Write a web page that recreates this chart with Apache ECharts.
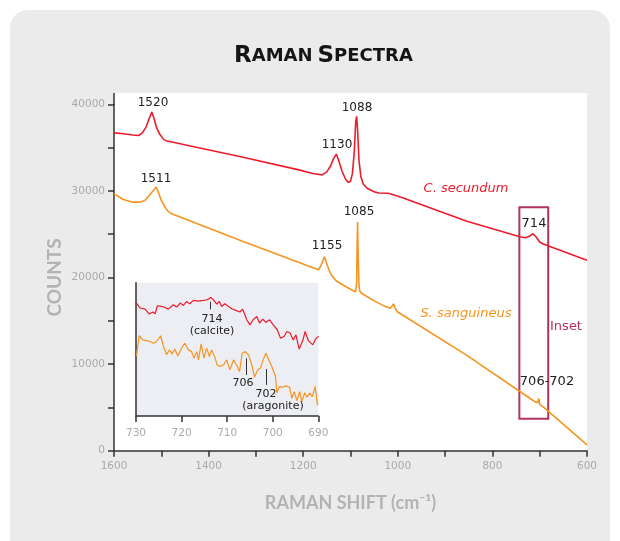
<!DOCTYPE html>
<html>
<head>
<meta charset="utf-8">
<script src="https://cdn.jsdelivr.net/npm/echarts@6/dist/echarts.min.js"></script>
<style>html,body{margin:0;padding:0;background:#fff}#c{width:620px;height:541px}</style>
</head>
<body>
<div id="c"></div>
<script>
// ---- Main spectra (Raman shift cm-1, counts) ----
const shiftRed = [1600,1580,1560,1548,1540,1532,1526,1520,1515,1510,1503,1495,1490,1327,1207,1180,1160,1150,1142,1136,1130,1125,1118,1111,1105,1100,1096,1092,1089,1087,1085,1082,1078,1073,1065,1050,1040,1020,1016,990,854,742,730,722,714,708,700,694,600];
const countsRed = [36700,36600,36450,36400,36700,37400,38300,39100,38300,37300,36500,35950,35800,33880,32400,32000,31850,32200,32900,33700,34250,33500,32300,31400,31000,31100,32000,34500,38000,38600,37000,33500,31600,30800,30300,29900,29750,29720,29700,29200,26500,24700,24580,24750,25050,24700,24100,23900,22000];

const shiftOrange = [1600,1580,1560,1545,1535,1525,1516,1511,1506,1500,1492,1485,1478,1327,1175,1168,1163,1158,1155,1151,1145,1138,1130,1115,1095,1089,1087,1086,1085,1084,1082,1080,1076,1050,1030,1016,1012,1009,1005,1001,854,710,704,702,700,690,600];
const countsOrange = [29650,29000,28700,28700,28900,29500,30100,30450,29800,28900,28100,27600,27350,24150,21050,20900,21300,22000,22400,21700,20800,20100,19600,19100,18500,18350,19500,23500,26400,23000,19000,18400,18150,17300,16750,16450,16700,16950,16400,16050,11000,5650,5550,6050,5350,4950,680];

// ---- Inset (730–690 cm-1, relative intensity) ----
const insetShiftRed = [729.9,729.1,728.0,727.1,726.3,725.8,725.3,724.4,723.6,722.9,721.8,721.1,720.3,719.6,718.9,718.2,717.4,716.3,715.2,714.4,713.6,712.9,712.3,711.7,711.2,710.5,709.7,709.0,708.1,707.2,706.6,705.7,705.0,704.3,703.5,702.9,702.2,701.5,700.7,699.9,699.0,698.3,697.5,696.9,696.2,695.5,694.9,694.2,693.4,692.9,692.2,691.2,690.5,689.9];
const insetRed = [84.7,81.0,80.2,76.5,78.0,76.7,82.7,82.2,81.4,80.2,83.5,81.7,84.7,82.9,85.9,84.2,86.7,86.2,86.7,87.2,88.9,86.7,84.0,85.9,82.2,84.2,82.2,80.5,79.2,78.0,80.2,72.2,68.4,72.2,74.7,69.7,72.7,70.2,72.2,68.4,64.7,58.4,59.6,63.4,62.2,57.1,60.9,50.2,56.6,63.4,56.6,53.4,58.4,59.6];

const insetShiftOrange = [729.9,729.3,728.5,727.7,726.9,726.2,725.5,724.6,724.0,723.3,722.7,722.1,721.5,720.8,720.0,719.3,718.5,717.8,717.3,716.7,716.3,715.7,715.1,714.5,713.9,713.4,712.7,712.2,711.6,710.8,710.1,709.4,708.6,707.9,707.3,706.7,706.0,705.3,704.5,704.0,703.3,702.7,702.1,701.5,700.8,700.2,699.4,699.1,698.5,697.8,697.1,696.3,695.8,695.3,694.7,694.1,693.6,693.0,692.5,691.9,691.3,690.7,690.2,690.0];
const insetOrange = [45.1,60.2,57.1,56.6,55.9,54.6,55.9,60.2,52.6,45.9,49.6,46.6,50.2,45.1,50.9,54.6,49.6,48.3,43.4,48.3,42.1,54.1,43.4,50.9,44.6,49.6,44.1,38.3,37.1,38.3,42.1,34.6,42.1,38.3,33.3,47.1,48.3,45.9,37.1,29.1,34.6,35.8,42.1,47.1,41.6,37.1,29.6,17.5,22.0,21.6,22.6,21.6,13.3,18.3,11.5,18.3,10.8,17.5,14.1,17.1,14.5,22.0,8.3,9.0];

// Peak markers inside the inset: [shift, yFrom, yTo]
const insetMarkers = [[713.6, 85.7, 80.0],[705.9, 43.3, 30.8],[701.5, 35.3, 23.3]];
// Inset region box on main chart: [shiftFrom, countsTop, shiftTo, countsBottom]
const insetBox = [743, 28100, 682, 3700];

const RED = '#ec1c2c', ORANGE = '#f7941e', BOX = '#b3335c';
const zip = (a, b) => a.map((v, i) => [v, b[i]]);

const chart = echarts.init(document.getElementById('c'), null, {renderer: 'canvas'});
const tickLabel = {color: '#aaaaaa', fontSize: 10.5, fontFamily: 'DejaVu Sans'};
const darkLine = {lineStyle: {color: '#333', width: 1.5}};

const annTxt = (x, y, text, extra) => ({
  type: 'text', x: x, y: y, z: 50,
  style: Object.assign({text: text, fill: '#222', font: '12px "DejaVu Sans"', align: 'center', verticalAlign: 'middle'}, extra || {})
});

const option = {
  animation: false,
  title: {
    text: '{a|R}{b|AMAN} {a|S}{b|PECTRA}',
    left: 229, top: 40,
    textStyle: {
      rich: {
        a: {fontSize: 23, fontWeight: 'bold', fontFamily: 'DejaVu Sans', color: '#151515'},
        b: {fontSize: 18, fontWeight: 'bold', fontFamily: 'DejaVu Sans', color: '#151515'}
      }
    }
  },
  grid: [
    {left: 114, right: 33, top: 104.3, bottom: 90.3},
    {left: 136, top: 282.7, width: 182.3, height: 133.3, show: true, backgroundColor: '#eceef4', borderWidth: 0}
  ],
  xAxis: [
    {
      gridIndex: 0, type: 'value', inverse: true, min: 600, max: 1600, interval: 100,
      name: 'RAMAN SHIFT (cm\u207B\u00B9)', nameLocation: 'middle', nameGap: 43, nameMoveOverlap: false,
      nameTextStyle: {color: '#b3b3b3', fontSize: 18, fontWeight: 'bold', fontFamily: 'Lato'},
      axisLine: darkLine,
      axisTick: {show: true, inside: false, length: 6, lineStyle: {color: '#333', width: 1.5}},
      axisLabel: Object.assign({margin: 10, formatter: v => (v % 200 === 0 ? String(v) : '')}, tickLabel),
      splitLine: {show: false}
    },
    {
      gridIndex: 1, type: 'value', inverse: true, min: 690, max: 730, interval: 10,
      axisLine: darkLine,
      axisTick: {show: true, length: 6, lineStyle: {color: '#333', width: 1.5}},
      axisLabel: Object.assign({margin: 12}, tickLabel),
      splitLine: {show: false}
    }
  ],
  yAxis: [
    {
      gridIndex: 0, type: 'value', min: 0, max: 40000, interval: 5000,
      name: 'COUNTS', nameLocation: 'middle', nameGap: 50, nameMoveOverlap: false,
      nameTextStyle: {color: '#b3b3b3', fontSize: 19, fontWeight: 'bold', fontFamily: 'Lato'},
      axisLine: {show: true, lineStyle: {color: '#333', width: 1.5}},
      axisTick: {show: true, length: 6, lineStyle: {color: '#333', width: 1.5}},
      axisLabel: Object.assign({margin: 9, formatter: v => (v % 10000 === 0 ? String(v) : '')}, tickLabel),
      splitLine: {show: false}
    },
    {
      gridIndex: 1, type: 'value', min: 0, max: 100,
      axisLine: {show: true, lineStyle: {color: '#333', width: 1.5}},
      axisTick: {show: false}, axisLabel: {show: false}, splitLine: {show: false}
    }
  ],
  series: [
    {
      name: 'C. secundum', type: 'line', xAxisIndex: 0, yAxisIndex: 0,
      data: zip(shiftRed, countsRed), showSymbol: false, symbol: 'none',
      lineStyle: {color: RED, width: 1.6},
      markArea: {
        silent: true,
        itemStyle: {color: 'rgba(0,0,0,0)', borderColor: BOX, borderWidth: 2},
        data: [[{coord: [insetBox[0], insetBox[1]]}, {coord: [insetBox[2], insetBox[3]]}]]
      }
    },
    {
      name: 'S. sanguineus', type: 'line', xAxisIndex: 0, yAxisIndex: 0,
      data: zip(shiftOrange, countsOrange), showSymbol: false, symbol: 'none',
      lineStyle: {color: ORANGE, width: 1.6}
    },
    {
      type: 'line', xAxisIndex: 1, yAxisIndex: 1,
      data: zip(insetShiftRed, insetRed), showSymbol: false, symbol: 'none',
      lineStyle: {color: RED, width: 1.2},
      markLine: {
        silent: true, symbol: 'none', label: {show: false},
        lineStyle: {color: '#333', width: 1, type: 'solid'},
        data: insetMarkers.map(m => [{coord: [m[0], m[1]]}, {coord: [m[0], m[2]]}])
      }
    },
    {
      type: 'line', xAxisIndex: 1, yAxisIndex: 1,
      data: zip(insetShiftOrange, insetOrange), showSymbol: false, symbol: 'none',
      lineStyle: {color: ORANGE, width: 1.2}
    }
  ],
  graphic: [
    {type: 'rect', z: -20, shape: {x: 10, y: 10, width: 600, height: 545, r: [18, 18, 0, 0]}, style: {fill: '#ebebeb'}},
    {type: 'rect', z: -10, shape: {x: 114, y: 93, width: 473, height: 358}, style: {fill: '#ffffff'}},
    {type: 'line', z: 10, shape: {x1: 114, y1: 93, x2: 114, y2: 105}, style: {stroke: '#333', lineWidth: 1.5}},
    annTxt(153, 103, '1520'),
    annTxt(357, 108, '1088'),
    annTxt(337, 145, '1130'),
    annTxt(156, 179, '1511'),
    annTxt(359, 212, '1085'),
    annTxt(327, 246, '1155'),
    annTxt(534, 224, '714', {font: '13px "DejaVu Sans"'}),
    annTxt(547, 382, '706-702', {font: '13px "DejaVu Sans"'}),
    annTxt(466, 189, 'C. secundum', {fill: RED, font: 'italic 13px "DejaVu Sans"'}),
    annTxt(466, 314, 'S. sanguineus', {fill: ORANGE, font: 'italic 13px "DejaVu Sans"'}),
    annTxt(566, 327, 'Inset', {fill: BOX, font: '13px "DejaVu Sans"'}),
    annTxt(212, 319, '714', {font: '11px "DejaVu Sans"'}),
    annTxt(212, 331, '(calcite)', {font: '11px "DejaVu Sans"'}),
    annTxt(243, 383, '706', {font: '11px "DejaVu Sans"'}),
    annTxt(266, 394, '702', {font: '11px "DejaVu Sans"'}),
    annTxt(273, 406, '(aragonite)', {font: '11px "DejaVu Sans"'})
  ]
};
chart.setOption(option);
</script>
</body>
</html>
